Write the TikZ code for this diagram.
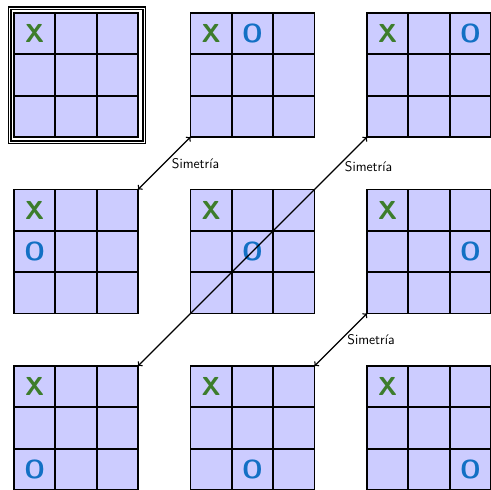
\documentclass[tikz,border=0pt]{standalone}
\usepackage{fontspec}
\usetikzlibrary{calc}
\definecolor{xgreen}{RGB}{61,125,44}
\definecolor{oblue}{RGB}{18,112,196}
\tikzset{
  boardbox/.style={draw=black, fill=blue!20, line width=1.8pt, minimum size=124pt, inner sep=0pt, outer sep=0pt},
  gridline/.style={line width=1.8pt},
  xmark/.style={text=xgreen, font=\fontsize{26}{30}\selectfont\sffamily\bfseries, inner sep=0pt},
  omark/.style={text=oblue, font=\fontsize{26}{30}\selectfont\sffamily\bfseries, inner sep=0pt},
  symarrow/.style={<->, line width=1.4pt},
  symlabel/.style={font=\fontsize{14}{16}\selectfont\sffamily, anchor=west, inner sep=0pt},
  frameouter/.style={draw, line width=1.3pt, minimum width=137pt, minimum height=136.5pt, inner sep=0pt},
  frameinner/.style={draw, line width=1.1pt, minimum width=132pt, minimum height=131.5pt, inner sep=0pt}
}
\newcommand\tttboard[3]{%
  \node[boardbox] (#1) at (#2,#3) {};
  \draw[gridline] ($(#1.north west)!1/3!(#1.north east)$) -- ($(#1.south west)!1/3!(#1.south east)$);
  \draw[gridline] ($(#1.north west)!2/3!(#1.north east)$) -- ($(#1.south west)!2/3!(#1.south east)$);
  \draw[gridline] ($(#1.north west)!1/3!(#1.south west)$) -- ($(#1.north east)!1/3!(#1.south east)$);
  \draw[gridline] ($(#1.north west)!2/3!(#1.south west)$) -- ($(#1.north east)!2/3!(#1.south east)$);
  \node[xmark] (#1x) at ($(#1.center)+(-41.33,-41.33)$) {X};
}
\newcommand\tttomark[3]{%
  \node[omark] (#1o) at ($(#1.center)+({(#3-1)*41.33},{(#2-1)*41.33})$) {O};
}
\begin{document}
\begin{tikzpicture}[x=1pt,y=-1pt]
\useasboundingbox (0,0) rectangle (491,490);
% row 0
\tttboard{b00}{76}{75}
\node[frameouter] (frameA) at (77,75.2) {};
\node[frameinner] (frameB) at (77,75.2) {};
\tttboard{b01}{252.5}{75}
\tttomark{b01}{0}{1}
\tttboard{b02}{429}{75}
\tttomark{b02}{0}{2}
% row 1
\tttboard{b10}{76}{251.5}
\tttomark{b10}{1}{0}
\tttboard{b11}{252.5}{251.5}
\tttomark{b11}{1}{1}
\tttboard{b12}{429}{251.5}
\tttomark{b12}{1}{2}
% row 2
\tttboard{b20}{76}{428}
\tttomark{b20}{2}{0}
\tttboard{b21}{252.5}{428}
\tttomark{b21}{2}{1}
\tttboard{b22}{429}{428}
\tttomark{b22}{2}{2}
% arrows
\draw[symarrow] (b10.north east) -- (b01.south west) node[symlabel, midway, xshift=7pt] {Simetría};
\draw[symarrow] (b20.north east) -- (b02.south west) node[symlabel, pos=0.87, xshift=7pt] {Simetría};
\draw[symarrow] (b21.north east) -- (b12.south west) node[symlabel, midway, xshift=6pt] {Simetría};
\end{tikzpicture}
\end{document}
